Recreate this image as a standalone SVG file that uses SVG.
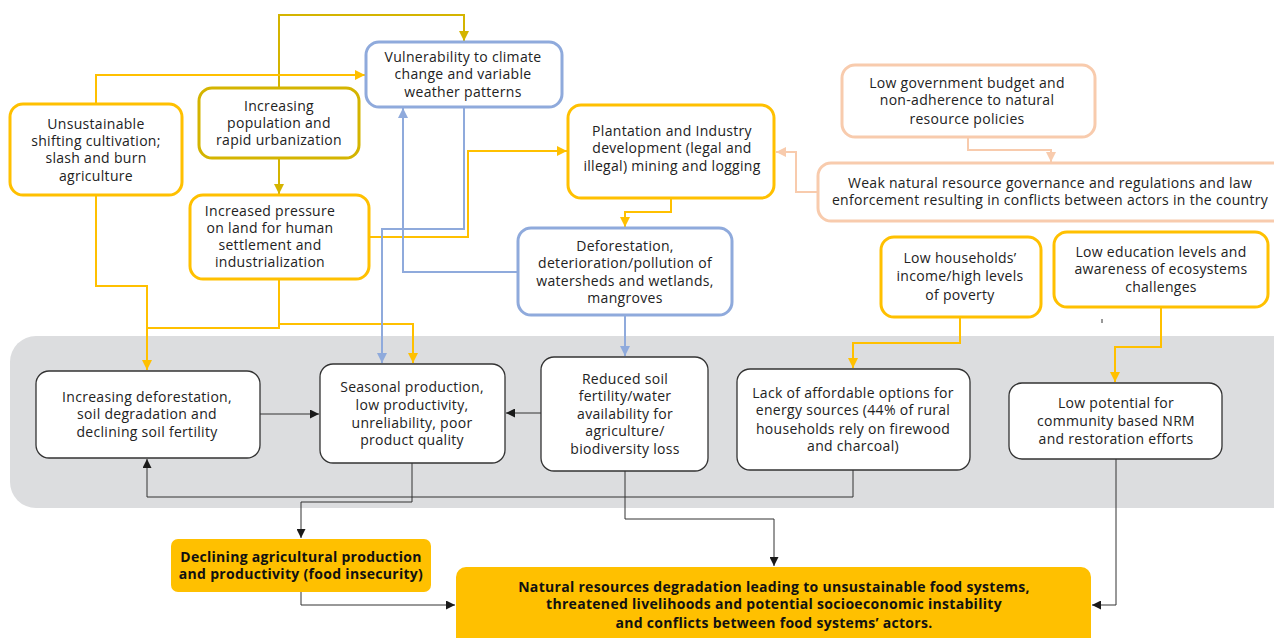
<svg xmlns="http://www.w3.org/2000/svg" width="1274" height="638" viewBox="0 0 1274 638">
  <defs>
    <marker id="ah-gold" viewBox="0 0 10 10" refX="10" refY="5" markerWidth="5" markerHeight="5" orient="auto" markerUnits="strokeWidth">
      <path d="M0,0 L10,5 L0,10 z" fill="#FFC000"/>
    </marker>
    <marker id="ah-olive" viewBox="0 0 10 10" refX="10" refY="5" markerWidth="5" markerHeight="5" orient="auto" markerUnits="strokeWidth">
      <path d="M0,0 L10,5 L0,10 z" fill="#D4B400"/>
    </marker>
    <marker id="ah-blue" viewBox="0 0 10 10" refX="10" refY="5" markerWidth="5" markerHeight="5" orient="auto" markerUnits="strokeWidth">
      <path d="M0,0 L10,5 L0,10 z" fill="#8FAADC"/>
    </marker>
    <marker id="ah-peach" viewBox="0 0 10 10" refX="10" refY="5" markerWidth="5" markerHeight="5" orient="auto" markerUnits="strokeWidth">
      <path d="M0,0 L10,5 L0,10 z" fill="#F8CBAD"/>
    </marker>
    <marker id="ah-dark" viewBox="0 0 10 10" refX="10" refY="5" markerWidth="9" markerHeight="9" orient="auto" markerUnits="strokeWidth">
      <path d="M0,0 L10,5 L0,10 z" fill="#1a1a1a"/>
    </marker>
  </defs>
  <style>
    text { font-family: "Open Sans", "Noto Sans", "Liberation Sans", sans-serif; font-size: 14px; letter-spacing: 0.3px; fill: #222; text-anchor: middle; }
    .bold { font-weight: bold; fill: #111; }
    .box { fill: #fff; rx: 13px; }
    .gold { stroke: #FFC000; stroke-width: 3; }
    .olive { stroke: #D4B400; stroke-width: 3; }
    .blue { stroke: #8FAADC; stroke-width: 3; }
    .peach { stroke: #F8CBAD; stroke-width: 3; }
    .white { stroke: #333; stroke-width: 1.3; }
    .fillbox { fill: #FFC000; }
    .c { fill: none; stroke-width: 2; }
    .c-gold { stroke: #FFC000; }
    .c-olive { stroke: #D4B400; }
    .c-blue { stroke: #8FAADC; }
    .c-peach { stroke: #F8CBAD; }
    .c-dark { fill: none; stroke: #333; stroke-width: 1; }
  </style>

  <!-- background panel -->
  <rect x="10" y="336" width="1290" height="172" rx="26" fill="#DCDDDF"/>

  <g id="connectors">
    <!-- olive -->
    <path class="c c-olive" d="M279,88 V15 H464 V41" marker-end="url(#ah-olive)"/>
    <path class="c c-olive" d="M279,158 V194" marker-end="url(#ah-olive)"/>
    <!-- gold -->
    <path class="c c-gold" d="M96,104 V75 H365" marker-end="url(#ah-gold)"/>
    <path class="c c-gold" d="M96,195 V286 H147 V370" marker-end="url(#ah-gold)"/>
    <path class="c c-gold" d="M279,279 V328 H147"/>
    <path class="c c-gold" d="M279,324 H413 V363" marker-end="url(#ah-gold)"/>
    <path class="c c-gold" d="M369,237 H468 V151 H567" marker-end="url(#ah-gold)"/>
    <path class="c c-gold" d="M671,198 V212 H625 V227" marker-end="url(#ah-gold)"/>
    <path class="c c-gold" d="M960,317 V343 H853 V368" marker-end="url(#ah-gold)"/>
    <path class="c c-gold" d="M1161,307 V347 H1115 V382" marker-end="url(#ah-gold)"/>
    <!-- blue -->
    <path class="c c-blue" d="M464,107 V229 H382 V363" marker-end="url(#ah-blue)"/>
    <path class="c c-blue" d="M518,272 H403 V108" marker-end="url(#ah-blue)"/>
    <path class="c c-blue" d="M625,315 V356" marker-end="url(#ah-blue)"/>
    <!-- peach -->
    <path class="c c-peach" d="M968,137 V150 H1051 V162" marker-end="url(#ah-peach)"/>
    <path class="c c-peach" d="M818,192 H796 V152 H776" marker-end="url(#ah-peach)"/>
    <!-- dark -->
    <path class="c-dark" d="M260,414 H319" marker-end="url(#ah-dark)"/>
    <path class="c-dark" d="M541,413 H506" marker-end="url(#ah-dark)"/>
    <path class="c-dark" d="M412,463 V502 H301 V538" marker-end="url(#ah-dark)"/>
    <path class="c-dark" d="M853,470 V497 H147 V459" marker-end="url(#ah-dark)"/>
    <path class="c-dark" d="M625,471 V519 H774 V566" marker-end="url(#ah-dark)"/>
    <path class="c-dark" d="M301,592 V605 H455" marker-end="url(#ah-dark)"/>
    <path class="c-dark" d="M1116,459 V605 H1092" marker-end="url(#ah-dark)"/>
  </g>

  <g id="n-shifting">
    <rect class="box gold" x="10" y="104" width="172" height="91"/>
    <text x="96" y="129">Unsustainable<tspan x="96" dy="17">shifting cultivation;</tspan><tspan x="96" dy="17">slash and burn</tspan><tspan x="96" dy="18">agriculture</tspan></text>
  </g>

  <g id="n-population">
    <rect class="box olive" x="199" y="88" width="160" height="70"/>
    <text x="279" y="111">Increasing<tspan x="279" dy="17">population and</tspan><tspan x="279" dy="17">rapid urbanization</tspan></text>
  </g>

  <g id="n-pressure">
    <rect class="box gold" x="190" y="195" width="179" height="84"/>
    <text x="270" y="216">Increased pressure<tspan x="270" dy="17">on land for human</tspan><tspan x="270" dy="17">settlement and</tspan><tspan x="270" dy="17">industrialization</tspan></text>
  </g>

  <g id="n-vulnerability">
    <rect class="box blue" x="366" y="42" width="196" height="65"/>
    <text x="463" y="62">Vulnerability to climate<tspan x="463" dy="17">change and variable</tspan><tspan x="463" dy="18">weather patterns</tspan></text>
  </g>

  <g id="n-plantation">
    <rect class="box gold" x="568" y="105" width="206" height="93"/>
    <text x="672" y="136">Plantation and Industry<tspan x="672" dy="17">development (legal and</tspan><tspan x="672" dy="18">illegal) mining and logging</tspan></text>
  </g>

  <g id="n-deforestation">
    <rect class="box blue" x="518" y="228" width="214" height="87"/>
    <text x="625" y="251">Deforestation,<tspan x="625" dy="17">deterioration/pollution of</tspan><tspan x="625" dy="18">watersheds and wetlands,</tspan><tspan x="625" dy="17">mangroves</tspan></text>
  </g>

  <g id="n-budget">
    <rect class="box peach" x="842" y="65" width="253" height="72"/>
    <text x="967" y="88">Low government budget and<tspan x="967" dy="17">non-adherence to natural</tspan><tspan x="967" dy="19">resource policies</tspan></text>
  </g>

  <g id="n-governance">
    <rect class="box peach" x="818" y="163" width="480" height="58"/>
    <text x="1050" y="188">Weak natural resource governance and regulations and law<tspan x="1050" dy="17">enforcement resulting in conflicts between actors in the country</tspan></text>
  </g>

  <g id="n-income">
    <rect class="box gold" x="881" y="237" width="160" height="80"/>
    <text x="960" y="263">Low households’<tspan x="960" dy="18">income/high levels</tspan><tspan x="960" dy="19">of poverty</tspan></text>
  </g>

  <g id="n-education">
    <rect class="box gold" x="1054" y="232" width="214" height="75"/>
    <text x="1161" y="257">Low education levels and<tspan x="1161" dy="17">awareness of ecosystems</tspan><tspan x="1161" dy="18">challenges</tspan></text>
  </g>

  <!-- small stray tick -->
  <line x1="1102" y1="319" x2="1102" y2="323" stroke="#333" stroke-width="1"/>

  <g id="n-soil-degradation">
    <rect class="box white" x="36" y="371" width="224" height="87"/>
    <text x="147" y="402">Increasing deforestation,<tspan x="147" dy="17">soil degradation and</tspan><tspan x="147" dy="18">declining soil fertility</tspan></text>
  </g>

  <g id="n-seasonal">
    <rect class="box white" x="320" y="364" width="185" height="99"/>
    <text x="412" y="392">Seasonal production,<tspan x="412" dy="18">low productivity,</tspan><tspan x="412" dy="18">unreliability, poor</tspan><tspan x="412" dy="17">product quality</tspan></text>
  </g>

  <g id="n-reduced-soil">
    <rect class="box white" x="541" y="357" width="167" height="114"/>
    <text x="625" y="384">Reduced soil<tspan x="625" dy="17">fertility/water</tspan><tspan x="625" dy="18">availability for</tspan><tspan x="625" dy="17">agriculture/</tspan><tspan x="625" dy="18">biodiversity loss</tspan></text>
  </g>

  <g id="n-energy">
    <rect class="box white" x="737" y="369" width="233" height="101"/>
    <text x="853" y="398">Lack of affordable options for<tspan x="853" dy="17">energy sources (44% of rural</tspan><tspan x="853" dy="19">households rely on firewood</tspan><tspan x="853" dy="17">and charcoal)</tspan></text>
  </g>

  <g id="n-nrm">
    <rect class="box white" x="1009" y="383" width="213" height="76"/>
    <text x="1116" y="408">Low potential for<tspan x="1116" dy="18">community based NRM</tspan><tspan x="1116" dy="18">and restoration efforts</tspan></text>
  </g>

  <g id="n-food-insecurity">
    <rect class="fillbox" x="171" y="539" width="260" height="53" rx="7"/>
    <text class="bold" x="301" y="562">Declining agricultural production<tspan x="301" dy="17">and productivity (food insecurity)</tspan></text>
  </g>

  <g id="n-outcome">
    <rect class="fillbox" x="456" y="567" width="635" height="90" rx="10"/>
    <text class="bold" x="774" y="592">Natural resources degradation leading to unsustainable food systems,<tspan x="774" dy="17">threatened livelihoods and potential socioeconomic instability</tspan><tspan x="774" dy="19">and conflicts between food systems’ actors.</tspan></text>
  </g>
</svg>
